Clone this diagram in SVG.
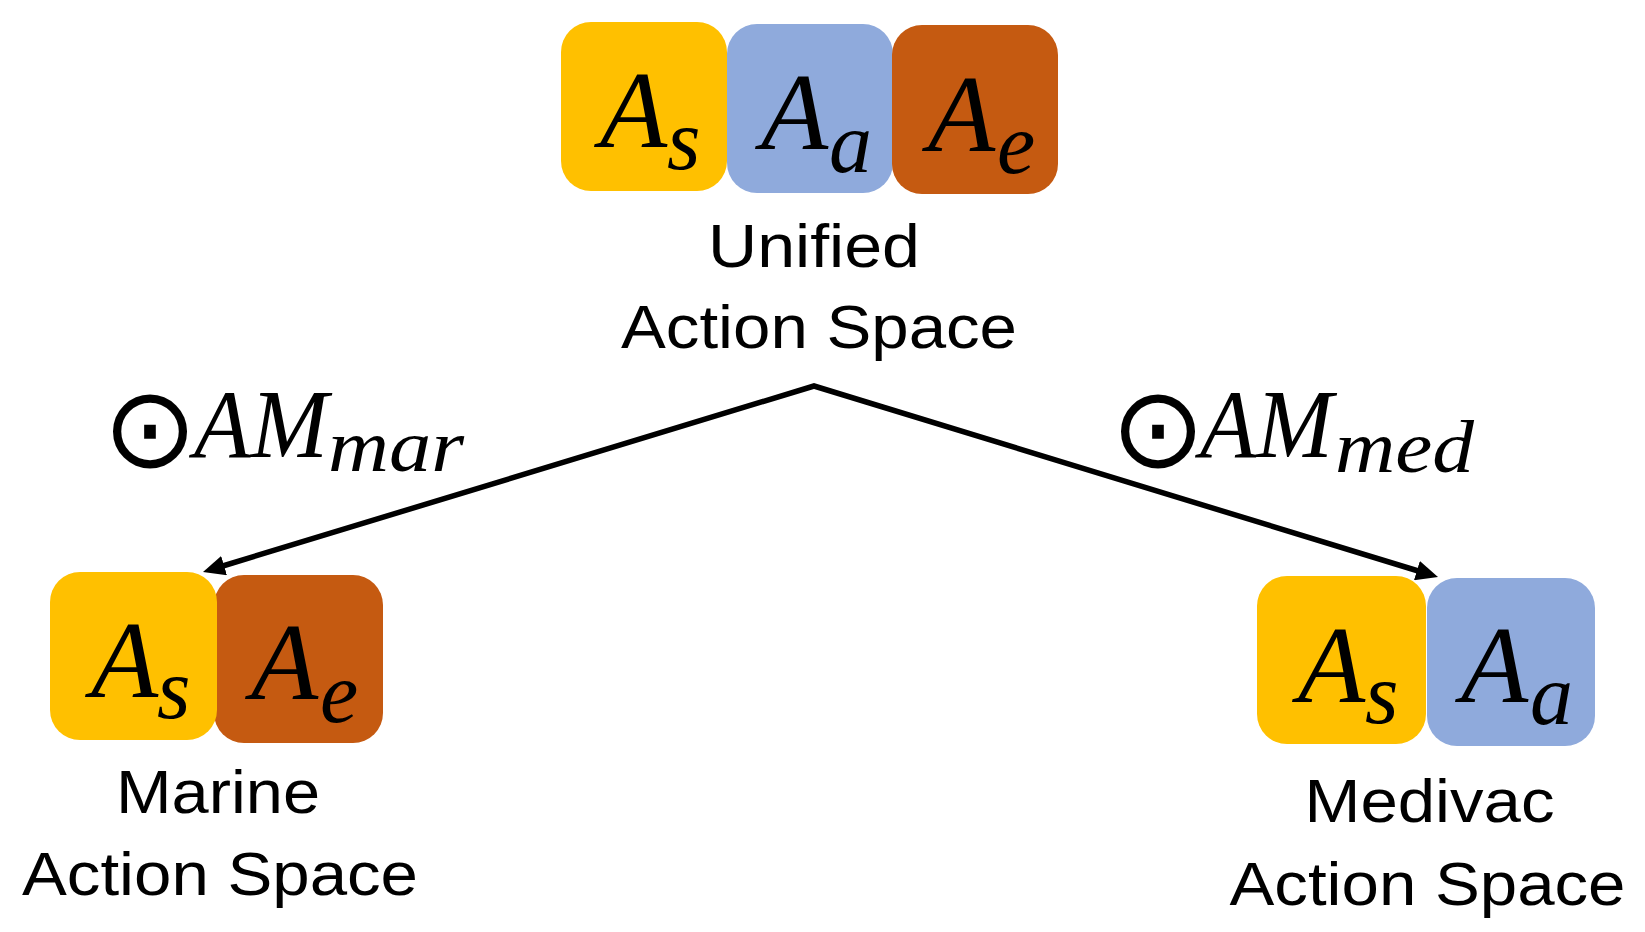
<svg xmlns="http://www.w3.org/2000/svg" width="1645" height="932" viewBox="0 0 1645 932">
<defs>
<style>
.ys{fill:#FFC000}
.bl{fill:#8FAADC}
.br{fill:#C55A11}
.m{font-family:"Liberation Serif",serif;font-style:italic;fill:#000}
.big{font-size:110px}
.sub{font-size:86px}
.lbl{font-family:"Liberation Sans",Arial,sans-serif;font-size:62px;fill:#000;text-anchor:middle}
.op{font-family:"DejaVu Sans",sans-serif;font-size:113px;fill:#000;text-anchor:middle}
.am{font-size:98px}
.ms{font-size:74px}
.conn{fill:none;stroke:#000;stroke-width:5.5;stroke-linejoin:miter}
</style>
<marker id="ah" markerUnits="userSpaceOnUse" viewBox="0 0 22 20" markerWidth="22" markerHeight="20" refX="10" refY="10" orient="auto-start-reverse">
<path d="M0,0 L22,10 L0,20 z" fill="#000"/>
</marker>
</defs>
<rect width="1645" height="932" fill="#fff"/>

<g id="connectors">
<path class="conn" d="M214.5,568.5 L814,386 L1426.5,573.5" marker-start="url(#ah)" marker-end="url(#ah)"/>
</g>

<g id="unified">
<rect class="ys" x="561" y="22" width="166" height="169" rx="30"/>
<rect class="bl" x="727" y="24" width="166" height="169" rx="30"/>
<rect class="br" x="892" y="25" width="166" height="169" rx="30"/>
<text class="m big" x="600" y="147">A</text><text class="m sub" x="667" y="169">s</text>
<text class="m big" x="761" y="149">A</text><text class="m sub" x="829" y="172">a</text>
<text class="m big" x="928" y="151">A</text><text class="m sub" x="997" y="173">e</text>
<text class="lbl" x="814" y="267" textLength="212" lengthAdjust="spacingAndGlyphs">Unified</text>
<text class="lbl" x="819" y="348" textLength="396" lengthAdjust="spacingAndGlyphs">Action Space</text>
</g>

<g id="marine">
<rect class="br" x="214" y="575" width="169" height="168" rx="30"/>
<rect class="ys" x="50" y="572" width="167" height="168" rx="30"/>
<text class="m big" x="91" y="697">A</text><text class="m sub" x="157" y="718">s</text>
<text class="m big" x="251" y="699">A</text><text class="m sub" x="320" y="722">e</text>
<text class="lbl" x="218" y="813" textLength="204" lengthAdjust="spacingAndGlyphs">Marine</text>
<text class="lbl" x="220" y="895" textLength="396" lengthAdjust="spacingAndGlyphs">Action Space</text>
</g>

<g id="medivac">
<rect class="ys" x="1257" y="576" width="169" height="168" rx="30"/>
<rect class="bl" x="1427" y="578" width="168" height="168" rx="30"/>
<text class="m big" x="1298" y="702">A</text><text class="m sub" x="1365" y="723">s</text>
<text class="m big" x="1461" y="702">A</text><text class="m sub" x="1530" y="724">a</text>
<text class="lbl" x="1429.5" y="822" textLength="250" lengthAdjust="spacingAndGlyphs">Medivac</text>
<text class="lbl" x="1427.5" y="905" textLength="396" lengthAdjust="spacingAndGlyphs">Action Space</text>
</g>

<g id="label-mar">
<text class="op" x="150" y="467">⊙</text>
<text class="m am" x="194" y="457" textLength="134" lengthAdjust="spacingAndGlyphs">AM</text>
<text class="m ms" x="328" y="471" textLength="136" lengthAdjust="spacingAndGlyphs">mar</text>
</g>

<g id="label-med">
<text class="op" x="1158" y="467">⊙</text>
<text class="m am" x="1200" y="457" textLength="133" lengthAdjust="spacingAndGlyphs">AM</text>
<text class="m ms" x="1335" y="472" textLength="139" lengthAdjust="spacingAndGlyphs">med</text>
</g>
</svg>
